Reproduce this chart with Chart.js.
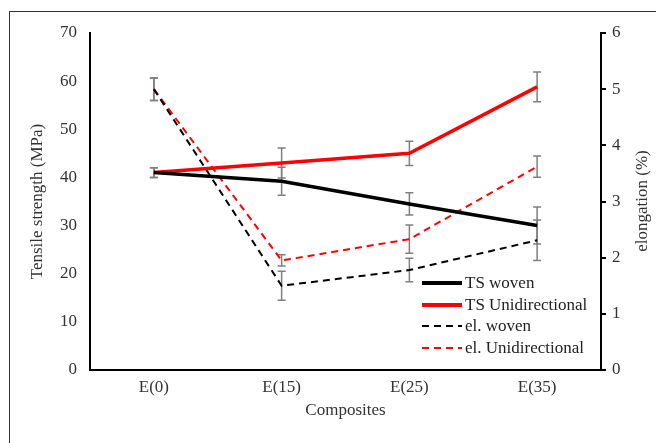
<!DOCTYPE html>
<html>
<head>
<meta charset="utf-8">
<script src="https://cdn.jsdelivr.net/npm/chart.js@4"></script>
<style>
  html, body { margin: 0; padding: 0; background: #fff; overflow: hidden; }
  #wrap { position: relative; width: 656px; height: 443px; }
  #frame { position: absolute; left: 9px; top: 11px; width: 700px; height: 500px; border: 1px solid #333; box-sizing: border-box; }
  #legend { position: absolute; left: 422px; top: 272px; font-family: 'Liberation Serif', 'Times New Roman', serif; font-size: 17px; color: #222; }
  .lg-row { display: flex; align-items: center; height: 21.7px; }
  .lg-swatch { width: 40px; margin-right: 3px; }
  #y2title { position: absolute; left: 642px; top: 201px; transform: translate(-50%, -50%) rotate(-90deg);
             white-space: nowrap; font-family: 'Liberation Serif', 'Times New Roman', serif; font-size: 17px; color: #333; }
</style>
</head>
<body>
<div id="wrap">
  <div id="frame"></div>
  <canvas id="chart" width="656" height="443"></canvas>
  <div id="legend"></div>
  <div id="y2title">elongation (%)</div>
</div>
<script>
// ── Data ──────────────────────────────────────────────────────────
const categories  = ['E(0)', 'E(15)', 'E(25)', 'E(35)'];
const tsWoven     = [41.0, 39.2, 34.5, 30.0];
const tsWovenErr  = [1.0, 2.9, 2.3, 3.85];
const tsUni       = [41.0, 43.0, 45.0, 58.8];
const tsUniErr    = [1.0, 3.1, 2.5, 3.1];
const elWoven     = [5.0, 1.5, 1.78, 2.31];
const elWovenErr  = [0.2, 0.26, 0.21, 0.36];
const elUni       = [5.0, 1.95, 2.33, 3.62];
const elUniErr    = [0.2, 0.1, 0.25, 0.19];

const FONT = "'Liberation Serif', 'Times New Roman', serif";
const TXT  = '#333';

// error bars: drawn from each dataset's own err array via its y scale
const errorBars = {
  id: 'errorBars',
  beforeDatasetsDraw(chart) {
    const ctx = chart.ctx;
    ctx.save();
    ctx.strokeStyle = '#7f7f7f';
    ctx.lineWidth = 1.5;
    chart.data.datasets.forEach((ds, di) => {
      const meta = chart.getDatasetMeta(di);
      const ys = chart.scales[ds.yAxisID];
      meta.data.forEach((pt, i) => {
        const v = ds.data[i], e = ds.err[i];
        const top = ys.getPixelForValue(v + e), bot = ys.getPixelForValue(v - e);
        const x = pt.x;
        ctx.beginPath();
        ctx.moveTo(x, top); ctx.lineTo(x, bot);
        ctx.moveTo(x - 4, top); ctx.lineTo(x + 4, top);
        ctx.moveTo(x - 4, bot); ctx.lineTo(x + 4, bot);
        ctx.stroke();
      });
    });
    ctx.restore();
  }
};

const series = [
  { label: 'TS woven',           data: tsWoven, err: tsWovenErr, color: '#000000', dash: [],     width: 3.5, axis: 'y'  },
  { label: 'TS Unidirectional',  data: tsUni,   err: tsUniErr,   color: '#ff0000', dash: [],     width: 3.5, axis: 'y'  },
  { label: 'el. woven',          data: elWoven, err: elWovenErr, color: '#000000', dash: [7, 5], width: 2,   axis: 'y2' },
  { label: 'el. Unidirectional', data: elUni,   err: elUniErr,   color: '#ff0000', dash: [7, 5], width: 2,   axis: 'y2' },
];

new Chart(document.getElementById('chart'), {
  type: 'line',
  data: {
    labels: categories,
    datasets: series.map(s => ({
      label: s.label,
      data: s.data,
      err: s.err,
      yAxisID: s.axis,
      borderColor: s.color,
      borderWidth: s.width,
      borderDash: s.dash,
      pointRadius: 0,
      tension: 0,
      fill: false,
    }))
  },
  options: {
    responsive: false,
    animation: false,
    layout: { padding: { top: 33, left: 0, right: 0, bottom: 0 } },
    plugins: { legend: { display: false }, tooltip: { enabled: false } },
    scales: {
      x: {
        offset: true,
        grid: { display: false, drawTicks: false },
        border: { display: true, color: '#000', width: 2 },
        ticks: { color: TXT, font: { family: FONT, size: 17 }, padding: 7 },
        title: { display: true, text: 'Composites', color: TXT, font: { family: FONT, size: 17 }, padding: { top: 0, bottom: 22 } },
        afterFit: s => { s.height = 73; },
      },
      y: {
        position: 'left',
        min: 0, max: 70,
        ticks: { stepSize: 10, color: TXT, font: { family: FONT, size: 17 }, padding: 13 },
        grid: { display: false, drawTicks: false },
        border: { display: true, color: '#000', width: 2 },
        title: { display: true, text: 'Tensile strength (MPa)', color: TXT, font: { family: FONT, size: 17 }, padding: { top: 27, bottom: 0 } },
        afterFit: s => { s.width = 90; },
      },
      y2: {
        position: 'right',
        min: 0, max: 6,
        ticks: { stepSize: 1, color: TXT, font: { family: FONT, size: 17 }, padding: 6 },
        grid: { display: true, drawOnChartArea: false, drawTicks: true, tickLength: 5, color: '#000', lineWidth: 2 },
        border: { display: true, color: '#000', width: 2 },
        // title drawn as a rotated div (reads bottom-to-top like the reference)
        afterFit: s => { s.width = 55; },
      }
    }
  },
  plugins: [errorBars]
});

// ── Legend (inside plot, lower right) ─────────────────────────────
const lg = document.getElementById('legend');
series.forEach(s => {
  const row = document.createElement('div');
  row.className = 'lg-row';
  const sw = document.createElement('div');
  sw.className = 'lg-swatch';
  if (s.dash.length) {
    sw.style.height = '2px';
    sw.style.background = `repeating-linear-gradient(to right, ${s.color} 0 7px, transparent 7px 12px)`;
  } else {
    sw.style.height = '4px';
    sw.style.background = s.color;
  }
  const tx = document.createElement('span');
  tx.textContent = s.label;
  row.appendChild(sw);
  row.appendChild(tx);
  lg.appendChild(row);
});
</script>
</body>
</html>
